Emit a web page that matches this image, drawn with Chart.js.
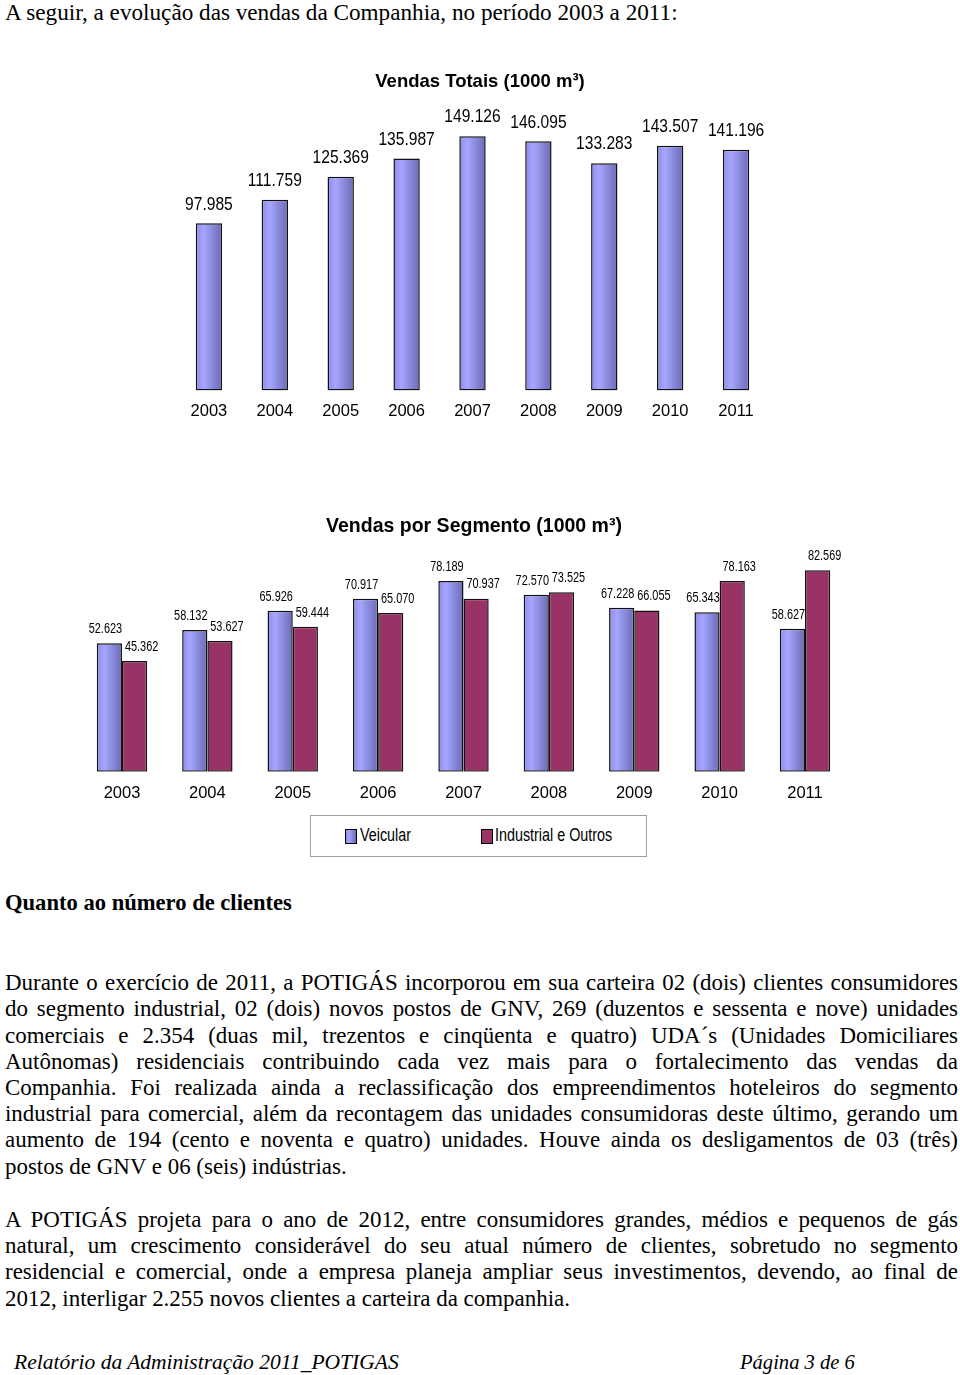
<!DOCTYPE html>
<html lang="pt-BR">
<head>
<meta charset="utf-8">
<script src="https://cdn.jsdelivr.net/npm/chart.js@4.4.1/dist/chart.umd.min.js"></script>
<style>
html,body{margin:0;padding:0;background:#fff;}
body{width:960px;height:1375px;position:relative;overflow:hidden;font-family:"Liberation Serif","Times New Roman",serif;color:#000;}
.t{position:absolute;white-space:nowrap;line-height:26px;}
.j{position:absolute;left:5px;width:953px;line-height:26px;white-space:nowrap;text-align:justify;text-align-last:justify;}
.l{position:absolute;left:5px;line-height:26px;white-space:nowrap;}
canvas{position:absolute;left:0;}
#c1{top:60px;}
#c2{top:505px;}
#legend{position:absolute;left:310px;top:815px;width:337px;height:42px;border:1px solid #a0a0a0;box-sizing:border-box;font-family:"Liberation Sans",Arial,sans-serif;font-size:17.5px;}
#legend .sw{position:absolute;top:13px;width:10px;height:13px;border:1px solid #000;}
#legend .tx{position:absolute;top:9px;line-height:20px;white-space:nowrap;display:inline-block;transform:scaleX(0.82);transform-origin:0 50%;}
</style>
</head>
<body>
<div class="t" id="hdr" style="left:5px;top:-1px;font-size:21px;">A seguir, a evolução das vendas da Companhia, no período 2003 a 2011:</div>

<canvas id="c1" width="960" height="373"></canvas>
<canvas id="c2" width="960" height="310"></canvas>

<div id="legend">
  <span class="sw" style="left:34px;background:linear-gradient(90deg,#8c8cea,#a4a4ff 30%,#6b6bb5);"></span><span class="tx" style="left:49px;">Veicular</span>
  <span class="sw" style="left:170px;background:#993366;"></span><span class="tx" style="left:184px;">Industrial e Outros</span>
</div>

<div class="t" id="hd" style="left:5px;top:890px;font-size:21px;font-weight:bold;">Quanto ao número de clientes</div>

<div class="body">
<div class="j" style="top:970px;">Durante o exercício de 2011, a POTIGÁS incorporou em sua carteira 02 (dois) clientes consumidores</div>
<div class="j" style="top:996px;">do segmento industrial, 02 (dois) novos postos de GNV, 269 (duzentos e sessenta e nove) unidades</div>
<div class="j" style="top:1023px;">comerciais e 2.354 (duas mil, trezentos e cinqüenta e quatro) UDA´s (Unidades Domiciliares</div>
<div class="j" style="top:1049px;">Autônomas) residenciais contribuindo cada vez mais para o fortalecimento das vendas da</div>
<div class="j" style="top:1075px;">Companhia. Foi realizada ainda a reclassificação dos empreendimentos hoteleiros do segmento</div>
<div class="j" style="top:1101px;">industrial para comercial, além da recontagem das unidades consumidoras deste último, gerando um</div>
<div class="j" style="top:1127px;">aumento de 194 (cento e noventa e quatro) unidades. Houve ainda os desligamentos de 03 (três)</div>
<div class="l" id="last1" style="top:1154px;">postos de GNV e 06 (seis) indústrias.</div>

<div class="j" style="top:1207px;">A POTIGÁS projeta para o ano de 2012, entre consumidores grandes, médios e pequenos de gás</div>
<div class="j" style="top:1233px;">natural, um crescimento considerável do seu atual número de clientes, sobretudo no segmento</div>
<div class="j" style="top:1259px;">residencial e comercial, onde a empresa planeja ampliar seus investimentos, devendo, ao final de</div>
<div class="l" style="top:1286px;">2012, interligar 2.255 novos clientes a carteira da companhia.</div>
</div>

<div class="t" id="f1" style="left:14px;top:1349px;font-size:21px;font-style:italic;">Relatório da Administração 2011_POTIGAS</div>
<div class="t" id="f2" style="left:740px;top:1349px;font-size:21px;font-style:italic;">Página 3 de 6</div>

<script>
// ---- data ----
const years = ['2003','2004','2005','2006','2007','2008','2009','2010','2011'];
const totalSales = [97985, 111759, 125369, 135987, 149126, 146095, 133283, 143507, 141196];
const vehicularSales = [52623, 58132, 65926, 70917, 78189, 72570, 67228, 65343, 58627];
const industrialSales = [45362, 53627, 59444, 65070, 70937, 73525, 66055, 78163, 82569];
const seriesNames = ['Veicular', 'Industrial e Outros'];

// ---- text fitting helpers ----
function fitWidth(el, target){
  const base = parseFloat(getComputedStyle(el).fontSize);
  const w = el.getBoundingClientRect().width;
  el.style.fontSize = (base * target / w) + 'px';
}
fitWidth(document.getElementById('hdr'), 673);
fitWidth(document.getElementById('hd'), 287);
fitWidth(document.getElementById('f1'), 385);
fitWidth(document.getElementById('f2'), 115);
(function(){
  const last = document.getElementById('last1');
  last.style.fontSize = '20px';
  let size = 20 * 342 / last.getBoundingClientRect().width;
  const lines = document.querySelectorAll('.body .j, .body .l');
  const probe = document.createElement('span');
  probe.style.cssText = 'position:absolute;visibility:hidden;white-space:nowrap;';
  document.body.appendChild(probe);
  let maxW = 0;
  lines.forEach(l => { probe.style.fontSize = size + 'px'; probe.textContent = l.textContent; maxW = Math.max(maxW, probe.getBoundingClientRect().width); });
  if (maxW > 950) size = size * 950 / maxW;
  probe.remove();
  lines.forEach(l => l.style.fontSize = size + 'px');
})();

// ---- chart helpers ----
const SANS = "'Liberation Sans', Arial, sans-serif";
function fmt(v){ return String(v).replace(/\B(?=(\d{3})+(?!\d))/g, '.'); }
function blueGradient(ctx){
  const chart = ctx.chart;
  const meta = chart.getDatasetMeta(ctx.datasetIndex);
  const el = meta.data[ctx.dataIndex];
  if (!el || el.x == null || !isFinite(el.x) || !el.width) return '#9999ff';
  const g = chart.ctx.createLinearGradient(el.x - el.width/2, 0, el.x + el.width/2, 0);
  g.addColorStop(0, '#8c8cea');
  g.addColorStop(0.3, '#a6a6ff');
  g.addColorStop(1, '#6a6ab4');
  return g;
}
// value labels, drawn with a narrow (horizontally condensed) face
const valueLabels = {
  id: 'valueLabels',
  afterDatasetsDraw(chart, args, opts){
    const ctx = chart.ctx;
    chart.data.datasets.forEach((ds, i) => {
      const meta = chart.getDatasetMeta(i);
      const dx = (opts.dx || [])[i] || 0;
      meta.data.forEach((el, j) => {
        ctx.save();
        ctx.font = opts.font;
        ctx.fillStyle = '#000';
        ctx.textAlign = 'center';
        ctx.textBaseline = 'middle';
        ctx.translate(el.x + dx, el.y - opts.dy);
        ctx.scale(opts.scaleX, 1);
        ctx.fillText(fmt(ds.data[j]), 0, 0);
        ctx.restore();
      });
    });
  }
};

// ---- chart 1: total sales ----
const chart1 = new Chart(document.getElementById('c1'), {
  type: 'bar',
  data: {
    labels: years,
    datasets: [{
      label: 'Vendas Totais',
      data: totalSales,
      backgroundColor: blueGradient,
      borderColor: '#111',
      borderWidth: 1.5,
      borderSkipped: false,
      barPercentage: 0.40,
      categoryPercentage: 1
    }]
  },
  options: {
    responsive: false, animation: false, events: [],
    layout: { padding: { left: 176, right: 176, top: 0, bottom: 0 } },
    plugins: {
      legend: { display: false },
      tooltip: { enabled: false },
      title: { display: true, text: 'Vendas Totais (1000 m³)', color: '#000',
               font: { family: SANS, size: 18.5, weight: 'bold' }, padding: { top: 10.9, bottom: 24.5 } },
      valueLabels: { font: '19px ' + SANS, dy: 19, dx: [0], scaleX: 0.82 }
    },
    scales: {
      x: { grid: { display: false, drawTicks: false }, border: { display: false },
           ticks: { color: '#000', font: { family: SANS, size: 16.5 }, padding: 11.4, maxRotation: 0 } },
      y: { position: 'right', min: 0, max: 160000, grid: { display: false }, border: { display: false },
           ticks: { display: false }, afterFit: s => { s.width = 15; } }
    }
  },
  plugins: [valueLabels]
});
chart1.update('none');

// ---- chart 2: by segment ----
const chart2 = new Chart(document.getElementById('c2'), {
  type: 'bar',
  data: {
    labels: years,
    datasets: [{
      label: seriesNames[0],
      data: vehicularSales,
      backgroundColor: blueGradient,
      borderColor: '#111',
      borderWidth: 1.5,
      borderSkipped: false,
      barPercentage: 1,
      categoryPercentage: 0.59
    }, {
      label: seriesNames[1],
      data: industrialSales,
      backgroundColor: '#993366',
      borderColor: '#111',
      borderWidth: 1.5,
      borderSkipped: false,
      barPercentage: 1,
      categoryPercentage: 0.59
    }]
  },
  options: {
    responsive: false, animation: false, events: [],
    layout: { padding: { left: 79.3, right: 91.3, top: 0, bottom: 0 } },
    plugins: {
      legend: { display: false },
      tooltip: { enabled: false },
      title: { display: true, text: 'Vendas por Segmento (1000 m³)', color: '#000',
               font: { family: SANS, size: 19.5, weight: 'bold' }, padding: { top: 10.3, bottom: 13.4 } },
      valueLabels: { font: '14px ' + SANS, dy: 14, dx: [-4, 7], scaleX: 0.78 }
    },
    scales: {
      x: { grid: { display: false, drawTicks: false }, border: { display: false },
           ticks: { color: '#000', font: { family: SANS, size: 16.5 }, padding: 11.7, maxRotation: 0 } },
      y: { position: 'right', min: 0, max: 90000, grid: { display: false }, border: { display: false },
           ticks: { display: false }, afterFit: s => { s.width = 21; } }
    }
  },
  plugins: [valueLabels]
});
chart2.update('none');
</script>
</body>
</html>
